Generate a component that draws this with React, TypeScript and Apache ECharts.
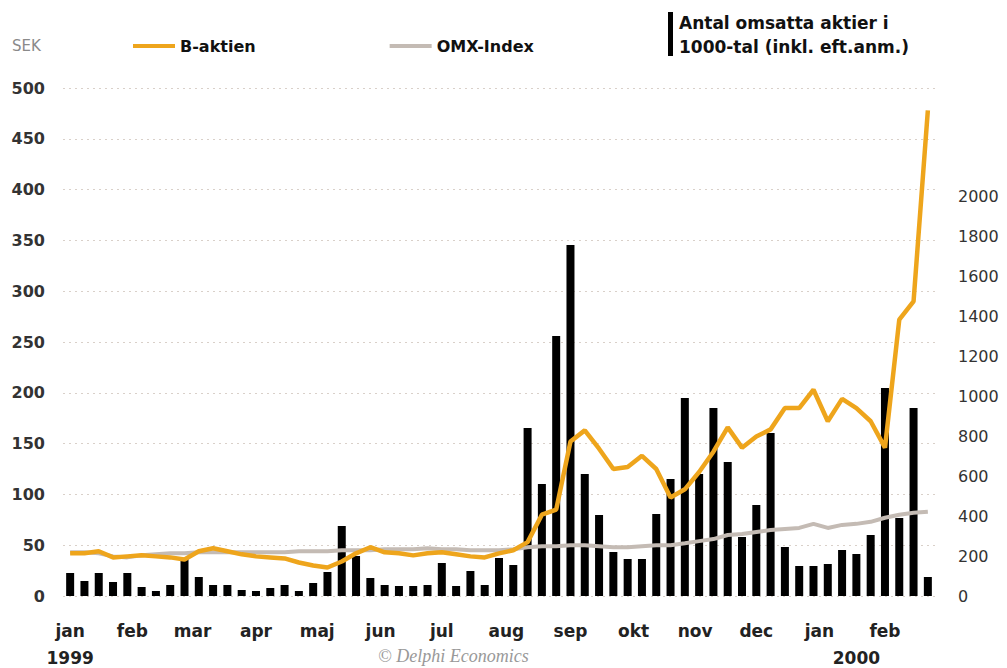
import React, { useEffect, useRef } from "react";
import * as echarts from "echarts";

const weeks = [
  "99v01","99v02","99v03","99v04","99v05","99v06","99v07","99v08","99v09","99v10",
  "99v11","99v12","99v13","99v14","99v15","99v16","99v17","99v18","99v19","99v20",
  "99v21","99v22","99v23","99v24","99v25","99v26","99v27","99v28","99v29","99v30",
  "99v31","99v32","99v33","99v34","99v35","99v36","99v37","99v38","99v39","99v40",
  "99v41","99v42","99v43","99v44","99v45","99v46","99v47","99v48","99v49","99v50",
  "99v51","99v52","00v01","00v02","00v03","00v04","00v05","00v06","00v07","00v08",
  "00v09",
];

// Antal omsatta aktier i 1000-tal (right axis)
const volume = [
  115, 75, 115, 70, 115, 45, 25, 55, 185, 95,
  55, 55, 30, 25, 40, 55, 25, 65, 120, 350,
  200, 90, 55, 50, 50, 55, 165, 50, 125, 55,
  190, 155, 840, 560, 1300, 1755, 610, 405, 220, 185,
  185, 410, 585, 990, 610, 940, 670, 295, 455, 815,
  245, 150, 150, 160, 230, 210, 305, 1040, 390, 940,
  95,
];

// B-aktien, SEK (left axis)
const bAktien = [
  42, 42, 44, 38, 39, 40, 39, 38, 36, 44,
  47, 44, 41, 39, 38, 37, 33, 30, 28, 34,
  42, 48, 43, 42, 40, 42, 43, 41, 39, 38,
  42, 45, 53, 80, 85, 152, 163, 145, 125, 127,
  138, 125, 97, 105, 122, 142, 166, 146, 157, 164,
  185, 185, 203, 172, 194, 185, 172, 146, 272, 290,
  478,
];

// OMX-Index, rebased to SEK scale (left axis)
const omx = [
  43, 43, 42, 39, 38, 40, 41, 42, 42, 43,
  43, 43, 43, 43, 43, 43, 44, 44, 44, 45,
  45, 45, 46, 46, 46, 47, 46, 46, 45, 45,
  45, 46, 48, 49, 49, 50, 50, 49, 48, 48,
  49, 50, 50, 52, 54, 56, 60, 61, 63, 65,
  66, 67, 71, 67, 70, 71, 73, 77, 80, 82,
  83,
];

const monthIndex = [0, 4, 8, 13, 17, 22, 26, 31, 35, 39, 44, 48, 52, 57];
const monthNames = ["jan", "feb", "mar", "apr", "maj", "jun", "jul", "aug", "sep", "okt", "nov", "dec", "jan", "feb"];
const yearIndex = [0, 55];
const yearNames = ["1999", "2000"];

// small pixel nudges of month labels (styling only)
const monthNudge = [0, 5, 8, 0, 4, -4, 0, -7, 0, 6, -4, 0, 6, 0];

const FONT = "DejaVu Sans";

export default function App() {
  const ref = useRef<HTMLDivElement>(null);
  useEffect(() => {
    if (!ref.current) return;
    const chart = echarts.init(ref.current, undefined, { renderer: "svg" });
    const monthRich: Record<string, any> = {};
    monthNudge.forEach((s, k) => {
      monthRich["m" + k] = {
        fontFamily: FONT,
        fontSize: 17,
        fontWeight: "bold",
        color: "#222",
        padding: s >= 0 ? [0, 0, 0, 2 * s] : [0, -2 * s, 0, 0],
      };
    });
    const monthAt = (i: number) => {
      const k = monthIndex.indexOf(i);
      return k >= 0 ? `{m${k}|${monthNames[k]}}` : "";
    };
    const yearAt = (i: number) => {
      const k = yearIndex.indexOf(i);
      return k >= 0 ? yearNames[k] : "";
    };
    chart.setOption({
      animation: false,
      backgroundColor: "#ffffff",
      textStyle: { fontFamily: FONT },
      grid: { left: 63, right: 72, top: 88, bottom: 72, containLabel: false },
      legend: {
        left: 133,
        top: 38,
        padding: 0,
        data: ["B-aktien", "OMX-Index"],
        icon: "rect",
        itemWidth: 42,
        itemHeight: 4,
        itemGap: 134,
        textStyle: { fontFamily: FONT, fontSize: 16, fontWeight: "bold", color: "#111" },
      },
      xAxis: [
        {
          type: "category",
          data: weeks,
          boundaryGap: true,
          axisLine: { show: false },
          axisTick: { show: false },
          axisLabel: {
            interval: 0,
            margin: 26,
            fontSize: 17,
            fontWeight: "bold",
            color: "#222",
            rich: monthRich,
            formatter: (_v: string, i: number) => monthAt(i),
          },
        },
        {
          type: "category",
          data: weeks,
          position: "bottom",
          offset: 27,
          boundaryGap: true,
          axisLine: { show: false },
          axisTick: { show: false },
          axisLabel: {
            interval: 0,
            margin: 26,
            fontSize: 17,
            fontWeight: "bold",
            color: "#222",
            formatter: (_v: string, i: number) => yearAt(i),
          },
        },
      ],
      yAxis: [
        {
          type: "value",
          min: 0,
          max: 500,
          interval: 50,
          axisLine: { show: false },
          axisTick: { show: false },
          axisLabel: { margin: 18, fontSize: 16, fontWeight: "bold", color: "#333" },
          splitLine: { show: true, lineStyle: { type: [2, 4], color: "#d9d0c9", width: 1 } },
        },
        {
          type: "value",
          min: 0,
          max: 2540,
          interval: 200,
          position: "right",
          axisLine: { show: false },
          axisTick: { show: false },
          splitLine: { show: false },
          axisLabel: {
            margin: 23,
            fontSize: 16,
            color: "#333",
            formatter: (v: number) => (v <= 2000 ? String(v) : ""),
          },
        },
      ],
      series: [
        {
          name: "Antal omsatta aktier i 1000-tal (inkl. eft.anm.)",
          type: "bar",
          xAxisIndex: 0,
          yAxisIndex: 1,
          data: volume,
          barWidth: 8,
          itemStyle: { color: "#000000" },
        },
        {
          name: "OMX-Index",
          type: "line",
          xAxisIndex: 0,
          yAxisIndex: 0,
          data: omx,
          showSymbol: false,
          symbol: "none",
          lineStyle: { color: "#c4bbb4", width: 4 },
          itemStyle: { color: "#c4bbb4" },
        },
        {
          name: "B-aktien",
          type: "line",
          xAxisIndex: 0,
          yAxisIndex: 0,
          data: bAktien,
          showSymbol: false,
          symbol: "none",
          lineStyle: { color: "#eea51c", width: 4.5 },
          itemStyle: { color: "#eea51c" },
        },
      ],
      graphic: [
        {
          type: "text",
          left: 12,
          top: 38,
          style: { text: "SEK", fontFamily: FONT, fontSize: 15, fill: "#8a8a8a" },
        },
        {
          type: "rect",
          left: 668,
          top: 12,
          shape: { width: 5, height: 44 },
          style: { fill: "#000" },
        },
        {
          type: "text",
          left: 679,
          top: 11,
          style: {
            text: "Antal omsatta aktier i\n1000-tal (inkl. eft.anm.)",
            fontFamily: FONT,
            fontSize: 17,
            fontWeight: "bold",
            lineHeight: 24,
            fill: "#111",
          },
        },
        {
          type: "text",
          left: 378,
          top: 647,
          style: {
            text: "© Delphi Economics",
            fontFamily: "Liberation Serif",
            fontSize: 18,
            fontStyle: "italic",
            fill: "#999",
          },
        },
      ],
    });
    return () => chart.dispose();
  }, []);
  return (
    <div
      ref={ref}
      style={{ position: "fixed", left: 0, top: 0, width: 1007, height: 668 }}
    />
  );
}
